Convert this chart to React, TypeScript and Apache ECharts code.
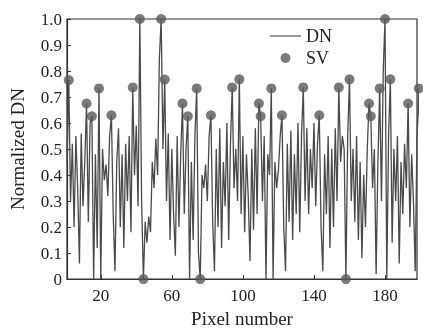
import React, { useEffect, useRef } from "react";
import * as echarts from "echarts";

// Pixel numbers 1..200 and DN values
const dnValues: number[] = [
  0.45, 0.765, 0.3, 0.52, 0.2, 0.55, 0.35, 0.06, 0.56, 0.28,
  0.45, 0.675, 0.22, 0.6, 0.626, 0.0, 0.48, 0.12, 0.733, 0.0,
  0.5, 0.38, 0.44, 0.32, 0.55, 0.63, 0.25, 0.03, 0.45, 0.58,
  0.2, 0.48, 0.12, 0.52, 0.3, 0.55, 0.18, 0.737, 0.4, 0.59,
  0.28, 1.0, 0.3, 0.0, 0.22, 0.14, 0.24, 0.18, 0.45, 0.35,
  0.54, 0.4, 0.85, 1.0, 0.5, 0.767, 0.3, 0.56, 0.15, 0.5,
  0.25, 0.09, 0.55, 0.2, 0.48, 0.675, 0.25, 0.5, 0.626, 0.0,
  0.45, 0.15, 0.55, 0.733, 0.1, 0.0, 0.4, 0.35, 0.44, 0.3,
  0.55, 0.63, 0.22, 0.03, 0.5, 0.2, 0.58, 0.12, 0.45, 0.28,
  0.6, 0.15, 0.52, 0.737, 0.35, 0.5, 0.3, 0.768, 0.25, 0.55,
  0.18, 0.48, 0.32, 0.07, 0.5, 0.19, 0.58, 0.25, 0.675, 0.626,
  0.3, 0.55, 0.0, 0.48, 0.4, 0.733, 0.0, 0.45, 0.35, 0.42,
  0.55, 0.63, 0.2, 0.03, 0.52, 0.22, 0.57, 0.15, 0.48, 0.25,
  0.6, 0.18, 0.55, 0.737, 0.3, 0.58, 0.25, 0.5, 0.35, 0.6,
  0.28, 0.52, 0.63, 0.2, 0.03, 0.48, 0.25, 0.55, 0.12, 0.5,
  0.2, 0.58, 0.3, 0.737, 0.45, 0.55, 0.5, 0.0, 0.55, 0.768,
  0.3, 0.5, 0.22, 0.55, 0.15, 0.45, 0.08, 0.4, 0.2, 0.5,
  0.675, 0.626, 0.35, 0.5, 0.02, 0.45, 0.733, 0.3, 0.8, 1.0,
  0.0, 0.55, 0.768, 0.14, 0.5, 0.3, 0.55, 0.06, 0.45, 0.25,
  0.52, 0.35, 0.675, 0.2, 0.48, 0.3, 0.03, 0.55, 0.733, 0.4,
];

const svPixels: number[] = [
  2, 12, 15, 19, 26, 38, 42, 44, 54, 56, 66, 69, 74, 76, 82, 94, 98,
  109, 110, 116, 122, 134, 143, 154, 158, 160, 171, 172, 177, 180, 183, 193, 199,
];
const svValues: number[] = [
  0.765, 0.675, 0.626, 0.733, 0.63, 0.737, 1.0, 0.0, 1.0, 0.767, 0.675, 0.626, 0.733, 0.0, 0.63, 0.737, 0.768,
  0.675, 0.626, 0.733, 0.63, 0.737, 0.63, 0.737, 0.0, 0.768, 0.675, 0.626, 0.733, 1.0, 0.768, 0.675, 0.733,
];

const xTicks: number[] = [20, 60, 100, 140, 180];

const FONT = "'Liberation Serif', 'Times New Roman', serif";

export default function App() {
  const ref = useRef<HTMLDivElement>(null);
  useEffect(() => {
    if (!ref.current) return;
    const chart = echarts.init(ref.current, null, { renderer: "svg" });
    const dnData = dnValues.map((v, i) => [i + 1, v]);
    const svData = svPixels.map((p, i) => [p, svValues[i]]);
    chart.setOption({
      animation: false,
      grid: {
        left: 63,
        right: 6,
        top: 19,
        bottom: 44,
        show: true,
        borderColor: "#333",
        borderWidth: 1.2,
        backgroundColor: "transparent",
      },
      legend: {
        left: 270,
        top: 27,
        orient: "vertical",
        itemWidth: 31,
        itemHeight: 10,
        itemGap: 4,
        padding: 0,
        textStyle: { fontFamily: FONT, fontSize: 18, color: "#222" },
        data: [
          { name: "DN", icon: "path://M0,5 L31,5 L31,6 L0,6 Z", itemStyle: { color: "#333" } },
          { name: "SV", icon: "circle" },
        ],
      },
      xAxis: {
        type: "value",
        min: 1,
        max: 198,
        name: "Pixel number",
        nameLocation: "middle",
        nameGap: 27,
        nameTextStyle: { fontFamily: FONT, fontSize: 19, color: "#222" },
        axisLine: { show: true, lineStyle: { color: "#333", width: 1.2 } },
        axisTick: { show: true, inside: true, length: 4, customValues: xTicks, lineStyle: { color: "#333" } },
        axisLabel: { customValues: xTicks, fontFamily: FONT, fontSize: 17, color: "#222", margin: 8 },
        splitLine: { show: false },
      },
      yAxis: {
        type: "value",
        min: 0,
        max: 1,
        interval: 0.1,
        name: "Normalized DN",
        nameLocation: "middle",
        nameGap: 40,
        nameTextStyle: { fontFamily: FONT, fontSize: 19, color: "#222" },
        axisLine: { show: true, lineStyle: { color: "#333", width: 1.2 } },
        axisTick: { show: true, inside: true, length: 4, lineStyle: { color: "#333" } },
        axisLabel: {
          fontFamily: FONT,
          fontSize: 17,
          color: "#222",
          margin: 5,
          formatter: (v: number) => (v === 0 ? "0" : v.toFixed(1)),
        },
        splitLine: { show: false },
      },
      series: [
        {
          name: "DN",
          type: "line",
          data: dnData,
          symbol: "none",
          clip: false,
          lineStyle: { color: "#4a4a4a", width: 1.3 },
          itemStyle: { color: "#333" },
        },
        {
          name: "SV",
          type: "scatter",
          data: svData,
          symbol: "circle",
          symbolSize: 10,
          clip: false,
          itemStyle: { color: "#595959" },
          z: 3,
        },
      ],
    });
    return () => chart.dispose();
  }, []);
  return (
    <div
      ref={ref}
      style={{ position: "fixed", left: 0, top: 0, width: 423, height: 333 }}
    />
  );
}
